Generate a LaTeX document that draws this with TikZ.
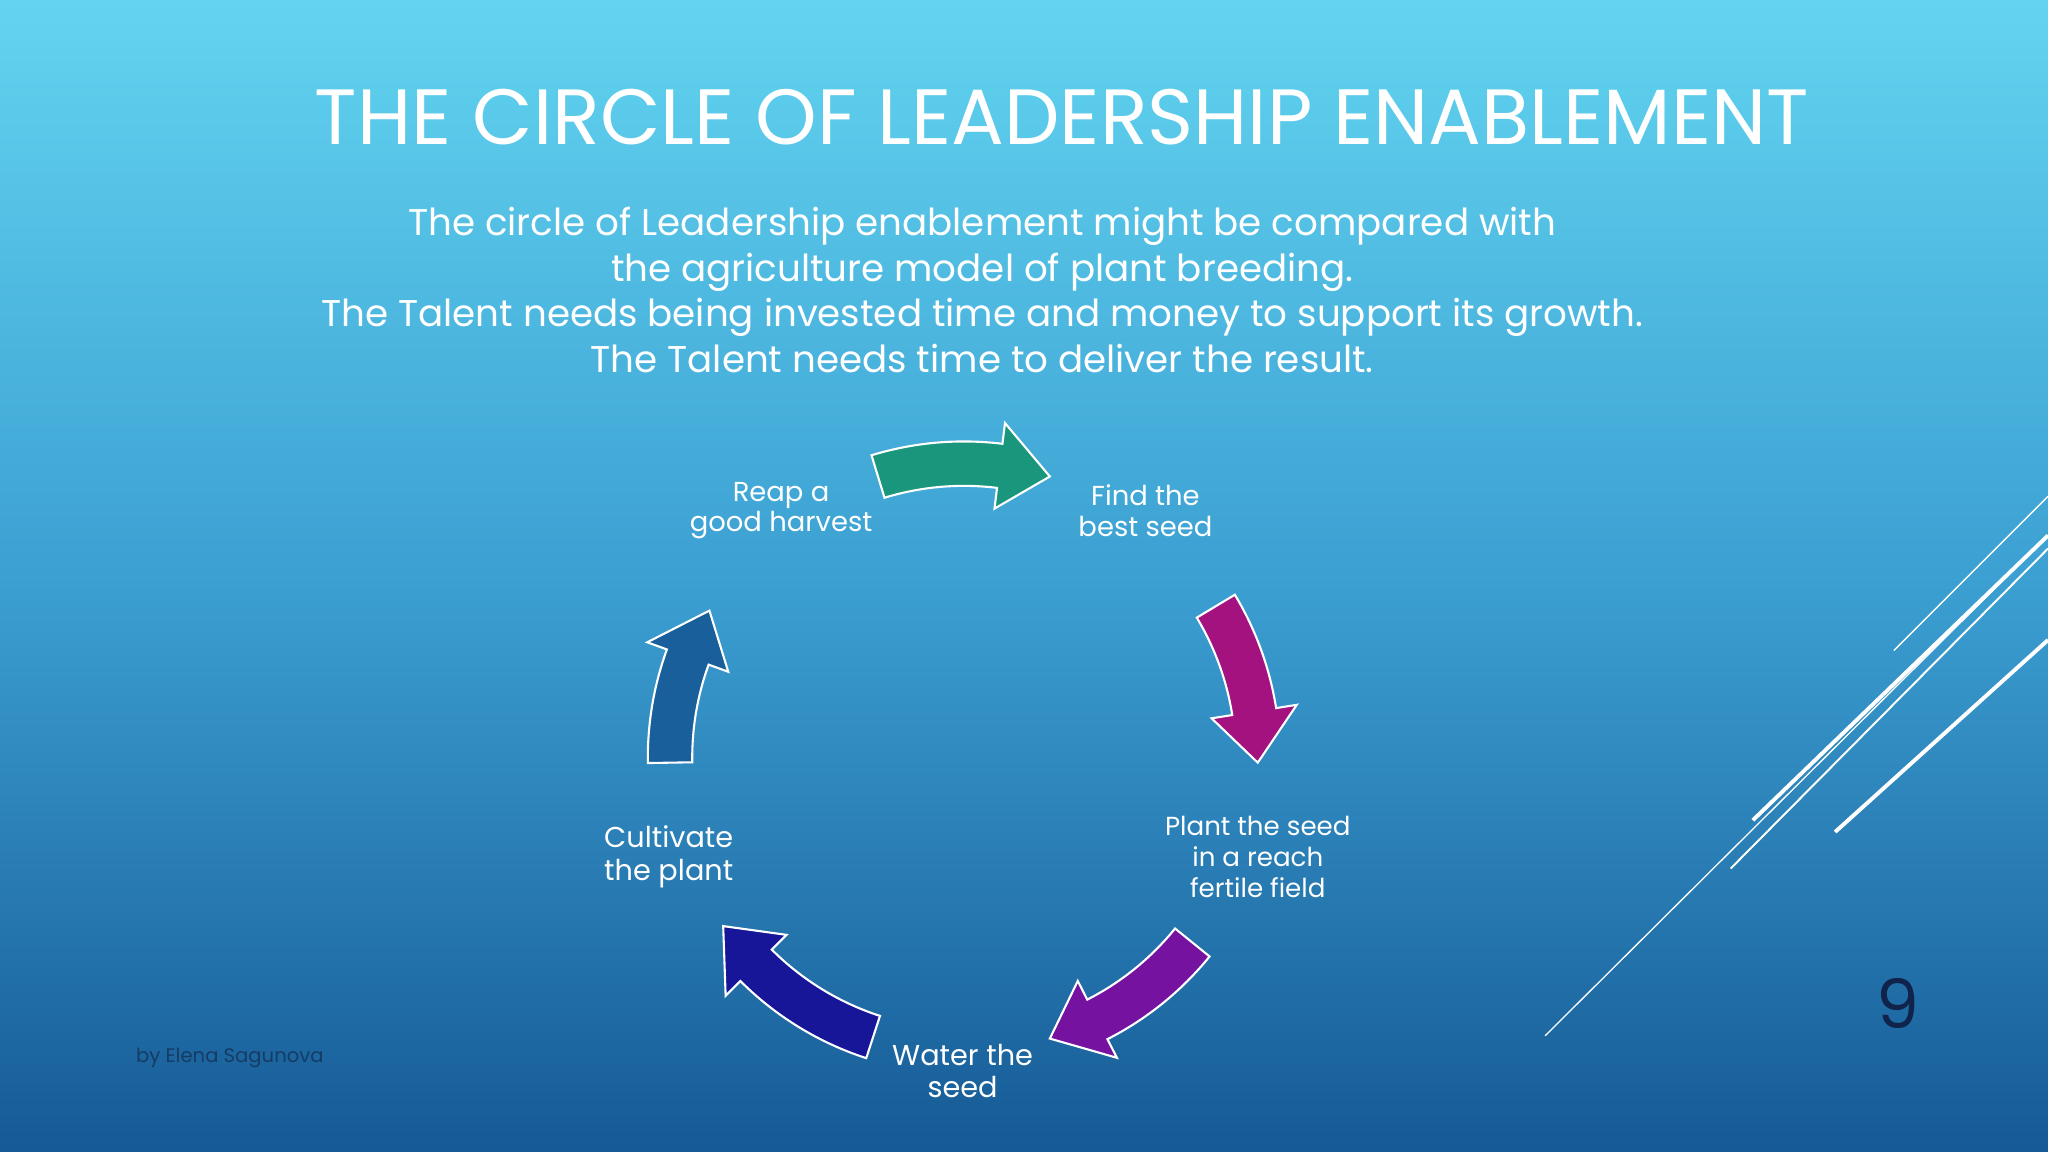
\documentclass[tikz,border=0pt]{standalone}
\usepackage{fontspec}
\setmainfont{Poppins}
\begin{document}
\begin{tikzpicture}[x=1pt,y=1pt,
  lbl/.style={text=white,align=center,font=\fontsize{21}{23}\selectfont,inner sep=0},
  carr/.style={draw=white,line width=1.6pt,line join=miter}]
\shade[top color={rgb,255:red,98;green,212;blue,240},bottom color={rgb,255:red,22;green,90;blue,150},middle color={rgb,255:red,60;green,160;blue,210}] (0,0) rectangle (1568,882);
\useasboundingbox (0,0) rectangle (1568,882);
\newcommand{\carrow}[3]{% a1 a2 color (tikz angles)
  \pgfmathsetmacro{\hh}{#2>#1 ? #2-10 : #2+10}
  \filldraw[carr,fill=#3,shift={(738,302)}] (#1:208pt) arc[start angle=#1,end angle=\hh,radius=208pt] -- (\hh:192pt) -- (#2:225pt) -- (\hh:258pt) -- (\hh:242pt) arc[start angle=\hh,end angle=#1,radius=242pt] -- cycle;}
\definecolor{cA}{RGB}{26,150,124}
\definecolor{cB}{RGB}{163,18,127}
\definecolor{cC}{RGB}{118,18,160}
\definecolor{cD}{RGB}{24,22,152}
\definecolor{cE}{RGB}{24,95,155}
\carrow{107}{73}{cA}
\carrow{31}{-1}{cB}
\carrow{-39}{-73}{cC}
\carrow{-108}{-145}{cD}
\carrow{-179}{-210}{cE}
\node[text=white,font=\fontsize{60}{64}\selectfont,inner sep=0] (title) at (813,792) {THE CIRCLE OF LEADERSHIP ENABLEMENT};
\node[text=white,align=center,font=\fontsize{28.5}{35}\selectfont,inner sep=0] (sub) at (752,660) {The circle of Leadership enablement might be compared with\\the agriculture model of plant breeding.\\The Talent needs being invested time and money to support its growth.\\The Talent needs time to deliver the result.};
\node[lbl] (reap) at (598,491) {Reap a\\good harvest};
\node[lbl] (find) at (877,491) {Find the\\best seed};
\node[lbl,font=\fontsize{20}{23.5}\selectfont] (plant) at (963,226) {Plant the seed\\in a reach\\fertile field};
\node[lbl,font=\fontsize{22}{25}\selectfont] (water) at (737,62) {Water the\\seed};
\node[lbl,font=\fontsize{22}{25}\selectfont] (cult) at (512,226) {Cultivate\\the plant};
\node[text={rgb,255:red,20;green,60;blue,100},font=\fontsize{15}{17}\selectfont,inner sep=0] (by) at (176,72) {by Elena Sagunova};
\node[text={rgb,255:red,15;green,35;blue,75},font=\fontsize{52}{56}\selectfont,inner sep=0] (num) at (1453,114) {9};
\draw[white,line width=3pt] (1342,254) -- (1568,472);
\draw[white,line width=3pt] (1405,245) -- (1568,392);
\draw[white,line width=1.5pt] (1325,217) -- (1568,462);
\draw[white,line width=1pt] (1450,384) -- (1568,502);
\draw[white,line width=1pt] (1183,89) -- (1568,472);
\end{tikzpicture}
\end{document}
